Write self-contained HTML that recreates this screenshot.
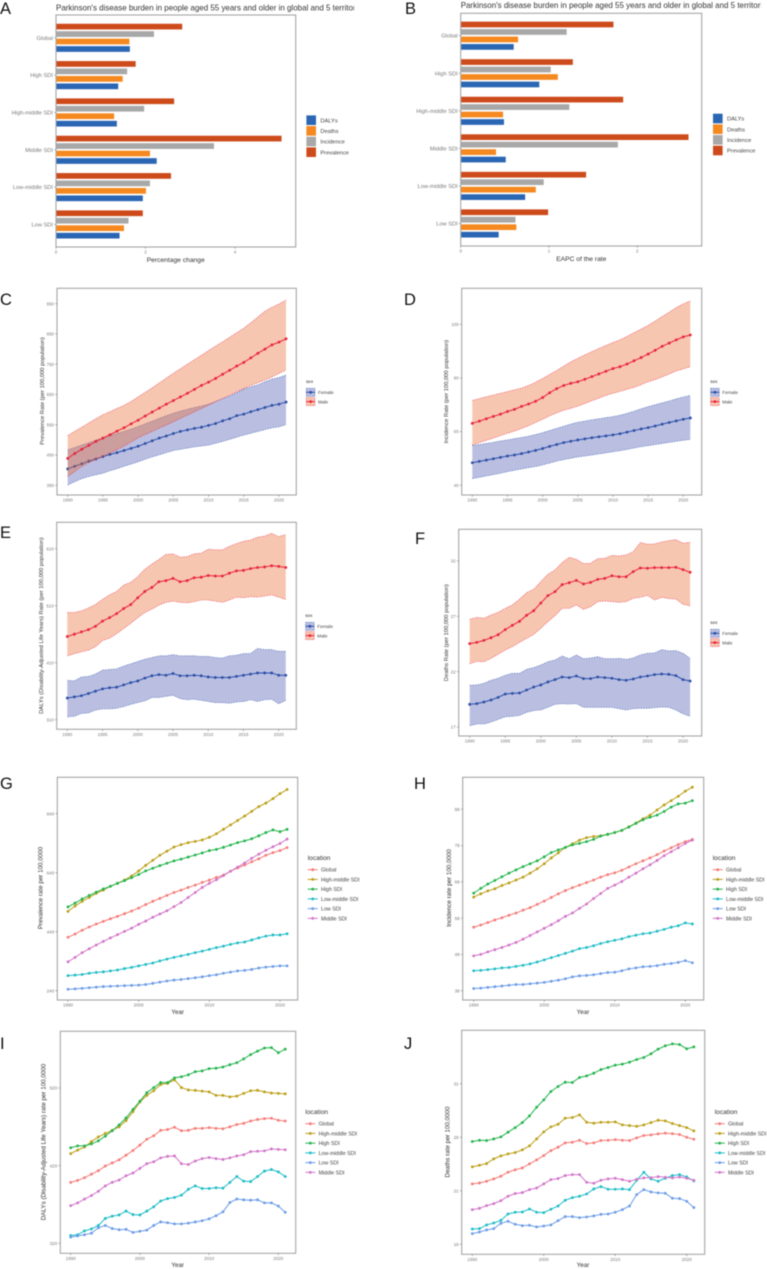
<!DOCTYPE html>
<html lang="en">
<head>
<meta charset="utf-8">
<title>Parkinson's disease burden figure</title>
<style>
html,body{margin:0;padding:0;background:#fff;width:767px;height:1269px;overflow:hidden}
svg{display:block;filter:blur(.4px)}
text{font-family:"Liberation Sans",sans-serif}
.letter{font-size:16.5px;fill:#111}
.title{font-size:7.98px;fill:#333}
.axt{font-size:6.7px;fill:#333;text-anchor:middle}
.s58{font-size:5.8px}
.s62{font-size:6.25px}
</style>
</head>
<body>
<svg id="figure" xmlns="http://www.w3.org/2000/svg" width="767" height="1269" viewBox="0 0 767 1269">
<defs>
<clipPath id="clip-a"><rect x="50" y="0" width="304" height="14"/></clipPath>
<clipPath id="clip-b"><rect x="455" y="0" width="306" height="12"/></clipPath>
</defs>
<rect x="0" y="0" width="767" height="1269" fill="#fff"/>
<text class="letter" x="0" y="14">A</text>
<text class="letter" x="405" y="14">B</text>
<text class="letter" x="0" y="305">C</text>
<text class="letter" x="404" y="305">D</text>
<text class="letter" x="0" y="538">E</text>
<text class="letter" x="415" y="544">F</text>
<text class="letter" x="0" y="789">G</text>
<text class="letter" x="414" y="789">H</text>
<text class="letter" x="0" y="1049">I</text>
<text class="letter" x="404" y="1049">J</text>
<text class="title" x="56" y="10.5" clip-path="url(#clip-a)">Parkinson's disease burden in people aged 55 years and older in global and 5 territories</text>
<text class="title" x="460.7" y="8" clip-path="url(#clip-b)">Parkinson's disease burden in people aged 55 years and older in global and 5 territories</text>
<text class="axt" x="175.7" y="262">Percentage change</text>
<text class="axt" x="581.3" y="261">EAPC of the rate</text>
<text class="axt s58" transform="translate(44.2,391) rotate(-90)">Prevalence Rate (per 100,000 population)</text>
<text class="axt s58" transform="translate(448.2,391.7) rotate(-90)">Incidence Rate (per 100,000 population)</text>
<text class="axt s58" transform="translate(43.2,625.7) rotate(-90)">DALYs (Disability-Adjusted Life Years) Rate (per 100,000 population)</text>
<text class="axt s58" transform="translate(448.2,632.7) rotate(-90)">Deaths Rate (per 100,000 population)</text>
<text class="axt s62" transform="translate(42.6,888) rotate(-90)">Prevalence rate per 100,0000</text>
<text class="axt s62" transform="translate(451,888) rotate(-90)">Incidence rate per 100,0000</text>
<text class="axt s62" transform="translate(45.3,1142) rotate(-90)">DALYs (Disability-Adjusted Life Years) rate per 100,0000</text>
<text class="axt s62" transform="translate(449.3,1142) rotate(-90)">Deaths rate per 100,0000</text>
<text class="axt s62" x="177.7" y="1014">Year</text>
<text class="axt s62" x="583" y="1014">Year</text>
<text class="axt s62" x="177.7" y="1267">Year</text>
<text class="axt s62" x="583" y="1267">Year</text>
</svg>
<script>
// ---------- shared categories and tick labels ----------
const years = [1990,1991,1992,1993,1994,1995,1996,1997,1998,1999,2000,2001,2002,2003,2004,2005,2006,2007,2008,2009,2010,2011,2012,2013,2014,2015,2016,2017,2018,2019,2020,2021];
const ticksYear5 = [1990,1995,2000,2005,2010,2015,2020];
const ticksYear10 = [1990,2000,2010,2020];
const barCategories = ['Global','High SDI','High-middle SDI','Middle SDI','Low-middle SDI','Low SDI'];
const barMeasures = ['Prevalence','Incidence','Deaths','DALYs'];
const legendMeasures = ['DALYs','Deaths','Incidence','Prevalence'];
const sexLabels = ['Female','Male'];
const locationLabels = ['Global','High-middle SDI','High SDI','Low-middle SDI','Low SDI','Middle SDI'];

// ---------- panel A: percentage change ----------
const aPrevalence = [2.82,1.78,2.64,5.04,2.57,1.94];
const aIncidence = [2.19,1.59,1.97,3.53,2.10,1.62];
const aDeaths = [1.64,1.49,1.30,2.10,2.01,1.52];
const aDalys = [1.65,1.39,1.36,2.25,1.94,1.42];
const aTicks = [0,2,4];

// ---------- panel B: EAPC ----------
const bPrevalence = [1.73,1.27,1.84,2.58,1.42,0.99];
const bIncidence = [1.20,1.02,1.23,1.78,0.94,0.62];
const bDeaths = [0.65,1.10,0.48,0.40,0.85,0.63];
const bDalys = [0.60,0.89,0.49,0.51,0.73,0.43];
const bTicks = [0,1,2];

// ---------- panel C: prevalence rate by sex ----------
const cMaleMean = [439,455,469,482,495,506,517,529,540,553,565,579,592,605,618,630,642,654,667,680,691,703,717,730,744,756,771,786,800,814,823,834];
const cMaleUpper = [514,528,542,556,570,583,593,604,614,627,642,657,672,688,704,720,735,750,765,780,795,810,824,839,854,869,887,906,925,938,949,962];
const cMaleLower = [379,396,412,425,435,445,456,468,480,493,507,518,528,539,549,560,571,582,593,604,615,626,637,648,659,670,680,689,698,708,720,731];
const cFemaleMean = [404,413,421,430,437,445,452,458,465,472,479,488,497,506,513,521,528,533,538,542,548,554,563,570,580,585,593,600,607,614,618,625];
const cFemaleUpper = [467,475,483,491,499,507,514,521,528,536,544,553,562,571,580,588,595,601,607,612,618,627,636,645,656,668,675,682,692,701,706,714];
const cFemaleLower = [351,362,372,379,385,390,398,405,413,420,428,436,444,451,458,465,469,473,477,480,483,489,495,502,509,516,522,528,534,540,543,551];
const cTicks = [350,450,550,650,750,850,950];

// ---------- panel D: incidence rate by sex ----------
const dMaleMean = [63.1,63.9,64.8,65.7,66.5,67.5,68.3,69.4,70.3,71.3,72.7,74.5,76.0,77.2,78.0,78.6,79.5,80.5,81.5,82.5,83.5,84.2,85.2,86.4,87.6,88.9,90.3,91.8,93.0,94.2,95.3,96.0];
const dMaleUpper = [71.6,72.3,73.0,73.6,74.3,74.9,75.6,76.2,77.2,78.4,79.8,81.3,82.8,84.4,86.0,87.3,88.6,89.8,91.0,92.1,93.2,94.2,95.5,96.9,98.2,99.6,101.2,102.9,104.5,106.2,107.6,108.7];
const dMaleLower = [55.0,55.9,56.8,57.6,58.5,59.4,60.2,61.2,62.2,63.4,64.6,65.9,67.0,68.0,68.7,69.5,70.5,71.5,72.5,73.5,74.3,75.0,75.8,76.5,77.5,78.6,79.4,80.4,81.5,82.6,83.4,84.2];
const dFemaleMean = [48.4,48.9,49.4,49.9,50.4,50.9,51.3,51.8,52.4,53.0,53.7,54.5,55.2,55.9,56.4,56.9,57.3,57.7,58.1,58.4,58.8,59.2,59.8,60.4,61.0,61.5,62.1,62.8,63.4,64.0,64.6,65.1];
const dFemaleUpper = [54.8,55.2,55.6,56.0,56.5,56.9,57.4,57.8,58.3,58.9,59.6,60.4,61.2,62.0,62.8,63.5,63.9,64.4,64.8,65.2,65.6,66.1,66.8,67.6,68.5,69.3,70.0,70.7,71.4,72.2,72.9,73.5];
const dFemaleLower = [42.5,43.0,43.5,44.0,44.5,45.1,45.6,46.1,46.6,47.0,47.6,48.3,49.0,49.6,50.1,50.6,50.9,51.3,51.7,52.1,52.5,52.9,53.4,53.9,54.4,54.8,55.2,55.6,56.0,56.4,56.8,57.1];
const dTicks = [40,60,80,100];

// ---------- panel E: DALYs rate by sex ----------
const eMaleMean = [456,460,464,468,474,483,489,496,505,512,524,535,542,552,554,558,552,554,559,560,563,562,562,567,571,572,575,577,578,580,579,577];
const eMaleUpper = [498,498,501,506,512,521,529,535,546,551,561,574,583,591,600,601,595,596,601,602,609,608,608,614,619,623,625,630,632,637,631,635];
const eMaleLower = [422,426,429,432,438,449,453,461,470,479,489,498,504,511,516,518,516,515,517,520,520,518,516,520,525,524,526,525,527,529,525,521];
const eFemaleMean = [348,350,352,356,360,364,366,367,371,375,378,383,387,389,388,391,387,387,388,387,385,384,384,384,386,388,390,392,392,392,388,388];
const eFemaleUpper = [379,378,385,386,390,397,398,399,404,408,412,416,419,422,422,424,422,422,422,421,421,419,418,422,423,426,426,435,433,433,430,430];
const eFemaleLower = [315,316,321,322,327,329,329,330,333,337,340,343,349,349,351,353,347,345,346,344,342,340,340,339,341,342,345,342,345,346,338,344];
const eTicks = [310,410,510,610];

// ---------- panel F: deaths rate by sex ----------
const fMaleMean = [24.53,24.65,24.83,25.07,25.34,25.80,26.19,26.55,27.09,27.51,28.20,28.87,29.23,29.86,30.04,30.25,29.92,30.07,30.34,30.43,30.67,30.58,30.58,31.04,31.37,31.34,31.40,31.40,31.40,31.43,31.22,30.98];
const fMaleUpper = [26.73,26.91,26.82,27.12,27.36,27.72,28.02,28.54,29.14,29.44,30.13,30.80,31.19,31.85,32.33,32.15,31.76,31.79,32.21,32.24,32.51,32.45,32.54,32.84,33.66,33.51,33.54,33.72,33.84,33.93,33.60,33.69];
const fMaleLower = [22.72,22.93,22.90,23.20,23.57,23.96,24.26,24.65,25.01,25.37,25.92,26.52,27.06,27.72,27.72,28.02,27.63,27.87,28.33,28.39,28.33,28.27,28.33,28.63,28.72,28.90,28.48,28.72,28.60,28.57,28.08,27.96];
const fFemaleMean = [19.05,19.11,19.26,19.44,19.68,19.98,20.04,20.07,20.34,20.61,20.80,21.07,21.28,21.52,21.46,21.61,21.37,21.37,21.52,21.46,21.40,21.28,21.22,21.34,21.52,21.61,21.73,21.79,21.76,21.64,21.28,21.16];
const fFemaleUpper = [20.77,20.80,20.95,21.22,21.40,21.67,21.85,21.85,22.21,22.36,22.60,22.90,23.05,23.41,23.17,23.51,23.17,23.23,23.35,23.17,23.17,23.20,23.11,23.23,23.51,23.66,23.69,23.99,23.87,23.90,23.66,23.20];
const fFemaleLower = [17.12,17.27,17.27,17.45,17.69,17.93,17.96,18.05,18.33,18.48,18.54,18.78,19.05,19.11,19.08,19.11,18.78,18.78,18.78,18.78,18.78,18.66,18.54,18.66,18.69,18.69,18.75,18.81,18.78,18.54,18.20,17.96];
const fTicks = [17,22,27,32];

// ---------- panel G: prevalence by location ----------
const gGlobal = [421,432,445,456,466,475,484,492,501,510,520,532,543,553,563,573,581,590,598,607,615,624,632,645,656,666,677,687,699,708,715,725];
const gHighMiddle = [509,527,543,556,570,581,594,604,615,629,646,665,682,699,713,727,735,742,746,751,760,772,787,802,817,832,848,864,876,891,908,922];
const gHigh = [524,537,551,563,574,585,594,604,613,623,634,646,655,664,672,680,686,693,700,707,715,719,726,734,742,748,755,765,776,785,779,787];
const gLowMiddle = [291,293,295,299,302,304,307,310,315,319,324,329,334,341,347,353,358,363,369,374,380,386,391,397,402,405,412,419,425,429,429,433];
const gLow = [245,246,248,250,252,254,255,256,257,258,259,261,265,269,273,276,278,281,284,287,291,294,299,303,307,309,312,317,320,322,324,324];
const gMiddle = [338,353,369,382,395,407,419,430,441,452,465,476,489,500,511,525,539,556,573,590,604,616,630,645,659,673,689,703,716,728,739,754];
const gTicks = [240,440,640,840];

// ---------- panel H: incidence by location ----------
const hGlobal = [55.5,56.1,56.8,57.5,58.1,58.8,59.4,60.2,60.9,61.8,62.7,63.7,64.7,65.6,66.4,67.1,67.8,68.5,69.3,70.0,70.5,71.2,72.1,73.0,73.8,74.6,75.5,76.5,77.4,78.3,79.1,79.7];
const hHighMiddle = [63.8,64.7,65.5,66.1,67.0,67.7,68.5,69.3,70.4,71.6,73.0,74.6,76.0,77.5,78.5,79.5,80.2,80.5,80.7,81.1,81.6,82.2,83.2,84.2,85.4,86.4,87.8,89.2,90.4,91.6,93.0,94.1];
const hHigh = [64.9,66.2,67.4,68.4,69.4,70.4,71.3,72.2,73.0,73.8,74.9,76.1,76.8,77.5,78.2,78.6,79.1,79.7,80.6,81.1,81.6,82.2,83.1,84.1,85.1,85.8,86.4,87.4,88.6,89.5,89.7,90.4];
const hLowMiddle = [43.5,43.6,43.8,44.0,44.3,44.4,44.7,45.0,45.4,45.9,46.5,47.1,47.7,48.3,48.9,49.6,49.9,50.4,51.0,51.5,51.9,52.3,52.9,53.3,53.7,53.9,54.4,54.9,55.5,55.9,56.7,56.4];
const hLow = [38.6,38.7,38.9,39.1,39.3,39.5,39.7,39.7,39.9,40.1,40.3,40.6,40.9,41.3,41.8,42.1,42.2,42.4,42.7,43.0,43.1,43.5,44.0,44.3,44.6,44.7,44.9,45.3,45.5,45.8,46.3,45.7];
const hMiddle = [47.6,48.0,48.7,49.3,49.9,50.6,51.3,52.2,53.2,54.2,55.2,56.2,57.3,58.5,59.4,60.7,61.9,63.4,64.8,66.2,67.1,68.1,69.3,70.4,71.6,72.7,73.9,75.2,76.3,77.4,78.6,79.5];
const hTicks = [38,48,58,68,78,88];

// ---------- panel I: DALYs by location ----------
const iGlobal = [398.5,401,404.5,409,413.5,419.5,423.5,427.5,433.5,439.5,446.5,454,458.5,465.5,466.5,469.5,465,465.5,468,468,469,468,467.5,470,473,474.5,477.5,479.5,480.5,481,478.5,477.5];
const iHighMiddle = [435.5,440,444,451,457,461.5,465.5,470,478,489.5,502,510.5,516.5,524.5,526,530.5,520.5,517.5,517,516,515,510.5,510.5,508.5,509.5,513,516.5,517,515,513.5,513,512.5];
const iHigh = [443,445.5,445.5,448,452,458,465,472.5,481.5,492.5,503,514,520.5,527,527,533,534.5,537,541,542,545,545.5,547,550,552.5,557.5,563,567.5,571.5,572,565.5,570];
const iLowMiddle = [330,331,336,338.5,343,352,355,356.5,361.5,357,356.5,361.5,367,374.5,377.5,379,382,389.5,394,390.5,390.5,391.5,391,398.5,406,400,399.5,406,413,415,412,406];
const iLow = [328,329.5,331,333,340,343,339,337.5,338,334,335.5,337,343,347.5,346.5,345,345,346,347.5,349,351.5,355.5,360.5,372.5,377,376,375.5,376,372,372,368,360];
const iMiddle = [368.5,372,377,381.5,387,394,398.5,401.5,407,410.5,416.5,422.5,425,430,432,432.5,422.5,421.5,426,429,430.5,429,428,430,432.5,434,438,438.5,439,441.5,441,440.5];
const iTicks = [320,420,520];

// ---------- panel J: deaths by location ----------
const jGlobal = [21.64,21.73,21.89,22.11,22.36,22.73,22.96,23.13,23.51,23.88,24.29,24.75,25.07,25.47,25.53,25.72,25.41,25.47,25.69,25.72,25.78,25.72,25.69,25.94,26.16,26.22,26.31,26.38,26.34,26.25,26.00,25.81];
const jHighMiddle = [23.23,23.38,23.54,23.98,24.26,24.44,24.57,24.82,25.19,25.84,26.50,26.97,27.21,27.78,27.84,28.09,27.40,27.31,27.40,27.40,27.43,27.15,27.09,27.02,27.15,27.37,27.59,27.53,27.28,27.09,26.90,26.59];
const jHigh = [25.60,25.72,25.69,25.84,26.03,26.47,26.90,27.37,27.99,28.80,29.49,30.27,30.74,31.14,31.11,31.58,31.73,31.98,32.32,32.51,32.73,32.83,33.01,33.26,33.45,33.79,34.23,34.54,34.72,34.66,34.26,34.44];
const jLowMiddle = [17.43,17.46,17.81,17.99,18.24,18.83,18.99,19.02,19.30,18.99,18.96,19.27,19.58,20.11,20.36,20.49,20.70,21.17,21.39,21.14,21.14,21.17,21.11,21.98,22.73,22.11,21.89,22.17,22.42,22.51,22.29,21.92];
const jLow = [17.00,17.15,17.34,17.46,17.96,18.15,17.87,17.74,17.78,17.62,17.71,17.81,18.21,18.59,18.59,18.49,18.55,18.65,18.80,18.83,18.99,19.24,19.58,20.64,21.11,20.89,20.80,20.77,20.30,20.27,20.02,19.43];
const jMiddle = [19.24,19.36,19.61,19.80,20.08,20.49,20.74,20.83,21.11,21.26,21.64,22.04,22.14,22.42,22.51,22.51,21.79,21.70,21.98,22.11,22.17,22.04,21.89,22.07,22.20,22.23,22.32,22.26,22.20,22.29,22.17,21.98];
const jTicks = [16,21,26,31];

// ---------- styling ----------
const measureColor = {DALYs:'#2a66b3',Deaths:'#f5881e',Incidence:'#a8a8a8',Prevalence:'#cd4a1b'};
const locationColor = ['#f47b78','#bb9f16','#22b44c','#1dbcc6','#6c9ce8','#d274c8'];
const sexFill = {Female:'#4a58b4',Male:'#e96a2f'};
const sexLine = {Female:'#2b4ea6',Male:'#e8233c'};
const frameColor = '#a6a6a6';
const tickColor = '#6a6a6a';
const tickTextColor = '#7a7a7a';
const labelColor = '#444';

const NS = 'http://www.w3.org/2000/svg';
const figure = document.getElementById('figure');

function make(tag, attrs, parent, content) {
  const node = document.createElementNS(NS, tag);
  for (const k in attrs) node.setAttribute(k, attrs[k]);
  if (content !== undefined) node.textContent = content;
  parent.appendChild(node);
  return node;
}
function scale(d0, p0, d1, p1) {
  return v => p0 + (v - d0) * (p1 - p0) / (d1 - d0);
}
function slug(s) {
  return String(s).toLowerCase().replace(/[^a-z0-9]+/g, '-');
}
function newPanel(id) {
  const g = make('g', {}, figure);
  
  
  return g;
}
function drawFrame(g, box, id) {
  const r = make('rect', {x: box.x0, y: box.y0, width: box.x1 - box.x0, height: box.y1 - box.y0, fill: 'none', stroke: frameColor, 'stroke-width': 1.1}, g);
  
  
}
function drawXTicks(g, box, xs, ticks, id) {
  ticks.forEach(t => {
    const l = make('line', {x1: xs(t), x2: xs(t), y1: box.y1, y2: box.y1 + 1.8, stroke: tickColor, 'stroke-width': .5}, g);
    
    
    const tx = make('text', {x: xs(t), y: box.y1 + 6.7, 'font-size': 4.5, fill: tickTextColor, 'text-anchor': 'middle'}, g, t);
    
    
  });
}
function drawYTicks(g, box, ys, ticks, id, size) {
  ticks.forEach(t => {
    const l = make('line', {x1: box.x0 - 1.8, x2: box.x0, y1: ys(t), y2: ys(t), stroke: tickColor, 'stroke-width': .5}, g);
    
    
    const tx = make('text', {x: box.x0 - 3, y: ys(t) + size * .36, 'font-size': size, fill: tickTextColor, 'text-anchor': 'end'}, g, t);
    
    
  });
}

// ---------- bar panels ----------
function barPanel(id, box, xs, ticks, catY, series, lg) {
  const g = newPanel(id);
  const catPos = barCategories.map((c, i) => catY(i));
  barCategories.forEach((c, i) => {
    series.forEach((values, m) => {
      const name = barMeasures[m];
      const y = catPos[i] + (m - 1.5) * 7.47 - 2.85;
      const r = make('rect', {x: xs(0), y: y, width: xs(values[i]) - xs(0), height: 5.7, fill: measureColor[name]}, g);
      
      
    });
    const l = make('line', {x1: box.x0 - 1.8, x2: box.x0, y1: catPos[i], y2: catPos[i], stroke: tickColor, 'stroke-width': .5}, g);
    
    
    const t = make('text', {x: box.x0 - 3, y: catPos[i] + 2, 'font-size': 5.7, fill: tickTextColor, 'text-anchor': 'end'}, g, c);
    
    
  });
  drawFrame(g, box, id);
  drawXTicks(g, box, xs, ticks, id);
  legendMeasures.forEach((name, i) => {
    const y = lg.y + i * 10.67;
    const r = make('rect', {x: lg.x, y: y, width: 9.6, height: 9.6, fill: measureColor[name]}, g);
    
    
    const t = make('text', {x: lg.x + 14, y: y + 6.9, 'font-size': 5.7, fill: labelColor}, g, name);
    
    
  });
}

// ---------- ribbon panels ----------
function ribbon(g, id, name, xs, ys, upper, lower, mean) {
  const pts = years.map((yr, i) => xs(yr) + ',' + ys(upper[i]))
    .concat(years.map((yr, i) => xs(yr) + ',' + ys(lower[i])).reverse()).join(' ');
  const band = make('polygon', {points: pts, fill: sexFill[name], 'fill-opacity': .38, stroke: 'none'}, g);
  
  
  [upper, lower].forEach((arr, j) => {
    const edge = make('polyline', {points: years.map((yr, i) => xs(yr) + ',' + ys(arr[i])).join(' '), fill: 'none', stroke: sexLine[name], 'stroke-width': .6, 'stroke-dasharray': '1.6 1.1', 'stroke-opacity': .8}, g);
    
    
  });
  const line = make('polyline', {points: years.map((yr, i) => xs(yr) + ',' + ys(mean[i])).join(' '), fill: 'none', stroke: sexLine[name], 'stroke-width': 1}, g);
  
  
  years.forEach((yr, i) => {
    const c = make('circle', {cx: xs(yr), cy: ys(mean[i]), r: 1.4, fill: sexLine[name]}, g);
    
    
  });
}
function bandPanel(id, box, xs, ys, ticks, male, female, lg) {
  const g = newPanel(id);
  ribbon(g, id, 'Female', xs, ys, female.upper, female.lower, female.mean);
  ribbon(g, id, 'Male', xs, ys, male.upper, male.lower, male.mean);
  drawFrame(g, box, id);
  drawXTicks(g, box, xs, ticksYear5, id);
  drawYTicks(g, box, ys, ticks, id, 4.4);
  const head = make('text', {x: lg.x, y: lg.y, 'font-size': 4.6, fill: '#333'}, g, 'sex');
  
  
  sexLabels.forEach((name, i) => {
    const cy = lg.y + 9.3 + i * 9.3;
    const r = make('rect', {x: lg.x + .3, y: cy - 4, width: 8.6, height: 8, fill: sexFill[name], 'fill-opacity': .38, stroke: sexLine[name], 'stroke-width': .5, 'stroke-dasharray': '1.5 1'}, g);
    
    
    const l = make('line', {x1: lg.x + .3, x2: lg.x + 8.9, y1: cy, y2: cy, stroke: sexLine[name], 'stroke-width': 1}, g);
    
    
    const c = make('circle', {cx: lg.x + 4.6, cy: cy, r: 1.4, fill: sexLine[name]}, g);
    
    
    const t = make('text', {x: lg.x + 12, y: cy + 1.7, 'font-size': 4.7, fill: labelColor}, g, name);
    
    
  });
}

// ---------- multi-line panels ----------
function linePanel(id, box, xs, ys, ticks, series, lg) {
  const g = newPanel(id);
  series.forEach((values, s) => {
    const name = locationLabels[s];
    const line = make('polyline', {points: years.map((yr, i) => xs(yr) + ',' + ys(values[i])).join(' '), fill: 'none', stroke: locationColor[s], 'stroke-width': 1}, g);
    
    
    years.forEach((yr, i) => {
      const c = make('circle', {cx: xs(yr), cy: ys(values[i]), r: 1.4, fill: locationColor[s]}, g);
      
      
    });
  });
  drawFrame(g, box, id);
  drawXTicks(g, box, xs, ticksYear10, id);
  drawYTicks(g, box, ys, ticks, id, 4.6);
  const head = make('text', {x: lg.x, y: lg.y, 'font-size': 6.6, fill: '#333'}, g, 'location');
  
  
  locationLabels.forEach((name, i) => {
    const cy = lg.y + 9.7 + i * 9.73;
    const l = make('line', {x1: lg.x, x2: lg.x + 10, y1: cy, y2: cy, stroke: locationColor[i], 'stroke-width': 1}, g);
    
    
    const c = make('circle', {cx: lg.x + 5, cy: cy, r: 1.4, fill: locationColor[i]}, g);
    
    
    const t = make('text', {x: lg.x + 13.3, y: cy + 1.9, 'font-size': 5.3, fill: labelColor}, g, name);
    
    
  });
}

// ---------- build ----------
barPanel('a', {x0: 56, y0: 15, x1: 295.7, y1: 247}, scale(0, 56, 4, 235), aTicks,
  i => 37.8 + i * 37.33, [aPrevalence, aIncidence, aDeaths, aDalys], {x: 306.4, y: 115.4});
barPanel('b', {x0: 460.7, y0: 13.3, x1: 701.7, y1: 246}, scale(0, 460.7, 2, 637.3), bTicks,
  i => 35.7 + i * 37.55, [bPrevalence, bIncidence, bDeaths, bDalys], {x: 713, y: 113.7});

bandPanel('c', {x0: 57, y0: 288.3, x1: 296.3, y1: 495}, scale(1990, 67.7, 2020, 279), scale(350, 485.3, 950, 303.7), cTicks,
  {upper: cMaleUpper, lower: cMaleLower, mean: cMaleMean}, {upper: cFemaleUpper, lower: cFemaleLower, mean: cFemaleMean}, {x: 306, y: 383});
bandPanel('d', {x0: 461.7, y0: 288.3, x1: 701.7, y1: 495}, scale(1990, 472.3, 2020, 683.3), scale(40, 485.3, 100, 324.3), dTicks,
  {upper: dMaleUpper, lower: dMaleLower, mean: dMaleMean}, {upper: dFemaleUpper, lower: dFemaleLower, mean: dFemaleMean}, {x: 710.3, y: 383});
bandPanel('e', {x0: 56.7, y0: 522.3, x1: 296.3, y1: 729.3}, scale(1990, 67.3, 2020, 278.7), scale(310, 719.7, 610, 548.7), eTicks,
  {upper: eMaleUpper, lower: eMaleLower, mean: eMaleMean}, {upper: eFemaleUpper, lower: eFemaleLower, mean: eFemaleMean}, {x: 305.3, y: 617});
bandPanel('f', {x0: 458.7, y0: 529.3, x1: 701.7, y1: 736}, scale(1990, 469.7, 2020, 683), scale(17, 727, 32, 561), fTicks,
  {upper: fMaleUpper, lower: fMaleLower, mean: fMaleMean}, {upper: fFemaleUpper, lower: fFemaleLower, mean: fFemaleMean}, {x: 710.3, y: 624});

linePanel('g', {x0: 57.3, y0: 777.3, x1: 297.7, y1: 1000}, scale(1990, 68, 2020, 280), scale(240, 990.7, 840, 813.7), gTicks,
  [gGlobal, gHighMiddle, gHigh, gLowMiddle, gLow, gMiddle], {x: 307.7, y: 860});
linePanel('h', {x0: 462.7, y0: 777.3, x1: 703.7, y1: 1000}, scale(1990, 473.7, 2020, 685.3), scale(38, 990.7, 88, 809.3), hTicks,
  [hGlobal, hHighMiddle, hHigh, hLowMiddle, hLow, hMiddle], {x: 712.7, y: 860});
linePanel('i', {x0: 60.3, y0: 1031.3, x1: 295.7, y1: 1253.3}, scale(1990, 70.7, 2020, 278.3), scale(320, 1243.3, 520, 1088), iTicks,
  [iGlobal, iHighMiddle, iHigh, iLowMiddle, iLow, iMiddle], {x: 305.3, y: 1114});
linePanel('j', {x0: 461.7, y0: 1030.3, x1: 704.7, y1: 1254.3}, scale(1990, 472.3, 2020, 686.7), scale(16, 1244.3, 31, 1083.7), jTicks,
  [jGlobal, jHighMiddle, jHigh, jLowMiddle, jLow, jMiddle], {x: 714.7, y: 1114});
</script>
</body>
</html>
